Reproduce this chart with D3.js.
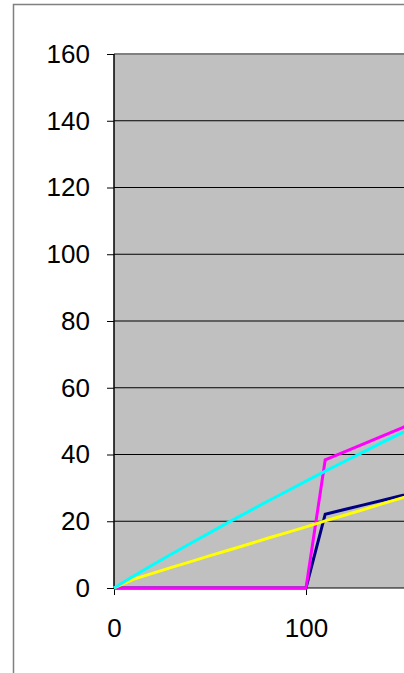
<!DOCTYPE html>
<html>
<head>
<meta charset="utf-8">
<script src="https://cdn.jsdelivr.net/npm/d3@7"></script>
<style>
  body { margin: 0; background: #fff; }
  svg { display: block; }
  .tick text { font-family: "Liberation Sans", Arial, sans-serif; font-size: 26px; fill: #000; }
</style>
</head>
<body>
<div id="chart"></div>
<script>
// x positions shared by every series
var xs = [0, 10, 20, 30, 40, 50, 60, 70, 80, 90, 100, 110, 120, 130, 140, 150, 160];

// series values
var navy    = [0, 0, 0, 0, 0, 0, 0, 0, 0, 0, 0, 22.1, 23.5, 24.9, 26.3, 27.7, 29.1];
var magenta = [0, 0, 0, 0, 0, 0, 0, 0, 0, 0, 0, 38.4, 40.8, 43.2, 45.6, 48.0, 50.4];
var yellow  = [0, 2.6, 4.4, 6.2, 7.9, 9.7, 11.4, 13.1, 14.9, 16.6, 18.3, 20.1, 21.8, 23.5, 25.3, 27.0, 28.7];
var cyan    = [0, 3.5, 6.9, 10.2, 13.4, 16.6, 19.8, 22.9, 26.0, 29.0, 32.0, 35.0, 37.9, 40.8, 43.7, 46.5, 49.3];

var yTicks = [0, 20, 40, 60, 80, 100, 120, 140, 160];
var xTicks = [0, 100];

var W = 404, H = 673;

var svg = d3.select("#chart")
  .append("svg")
    .attr("width", W)
    .attr("height", H);

// outer chart frame (runs off the right and bottom edges)
svg.append("rect")
  .attr("x", 13.5)
  .attr("y", 4.5)
  .attr("width", 600)
  .attr("height", 800)
  .attr("fill", "#fff")
  .attr("stroke", "#808080")
  .attr("stroke-width", 1.5);

var x = d3.scaleLinear()
  .domain([0, 200])
  .range([114, 498]);

var y = d3.scaleLinear()
  .domain([0, 160])
  .range([588, 54]);

// plot area
svg.append("rect")
  .attr("x", x(0))
  .attr("y", y(160))
  .attr("width", x(200) - x(0))
  .attr("height", y(0) - y(160))
  .attr("fill", "#c0c0c0");

// gridlines
svg.append("g")
  .selectAll("line")
  .data(yTicks.filter(function(d) { return d > 0 && d < 160; }))
  .enter()
  .append("line")
    .attr("x1", x(0))
    .attr("x2", x(200))
    .attr("y1", function(d) { return y(d); })
    .attr("y2", function(d) { return y(d); })
    .attr("stroke", "#000")
    .attr("stroke-width", 1);

// top border of plot area
svg.append("line")
  .attr("x1", x(0))
  .attr("x2", x(200))
  .attr("y1", y(160))
  .attr("y2", y(160))
  .attr("stroke", "#808080")
  .attr("stroke-width", 2);

// axes
var yAxis = svg.append("g")
  .attr("transform", "translate(" + x(0) + ",0)")
  .call(d3.axisLeft(y).tickValues(yTicks).tickSize(7).tickPadding(17));

var xAxis = svg.append("g")
  .attr("transform", "translate(0," + y(0) + ")")
  .call(d3.axisBottom(x).tickValues(xTicks).tickSize(7).tickPadding(24));

yAxis.select(".domain").remove();
xAxis.select(".domain").remove();
yAxis.selectAll(".tick line").attr("stroke", "#000");
xAxis.selectAll(".tick line").attr("stroke", "#000");

svg.append("line")
  .attr("x1", x(0)).attr("x2", x(200))
  .attr("y1", y(0)).attr("y2", y(0))
  .attr("stroke", "#000").attr("stroke-width", 1);
svg.append("line")
  .attr("x1", x(0)).attr("x2", x(0))
  .attr("y1", y(160)).attr("y2", y(0))
  .attr("stroke", "#000").attr("stroke-width", 1.5);

// series lines, drawn in stacking order
var series = [
  { name: "navy", values: navy, color: "#000080" },
  { name: "magenta", values: magenta, color: "#ff00ff" },
  { name: "yellow", values: yellow, color: "#ffff00" },
  { name: "cyan", values: cyan, color: "#00ffff" }
];

var line = d3.line()
  .x(function(d, i) { return x(xs[i]); })
  .y(function(d) { return y(d); });

svg.append("g")
  .selectAll("path")
  .data(series)
  .enter()
  .append("path")
    .attr("d", function(s) { return line(s.values); })
    .attr("fill", "none")
    .attr("stroke", function(s) { return s.color; })
    .attr("stroke-width", 3)
    .attr("stroke-linejoin", "miter");
</script>
</body>
</html>
